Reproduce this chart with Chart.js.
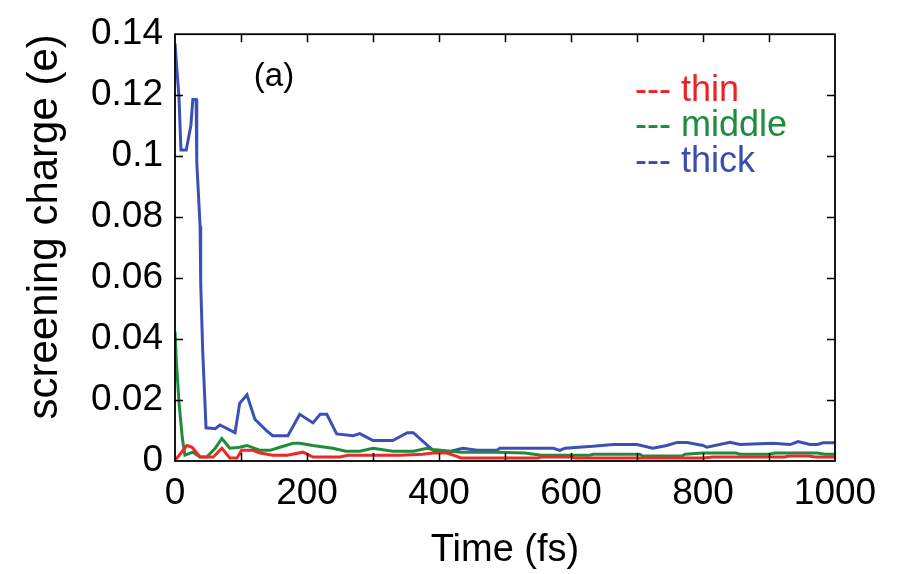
<!DOCTYPE html>
<html>
<head>
<meta charset="utf-8">
<script src="https://cdn.jsdelivr.net/npm/chart.js@4/dist/chart.umd.min.js"></script>
<style>
  html, body { margin: 0; padding: 0; background: #fff; }
  #wrap { width: 901px; height: 574px; position: relative; }
</style>
</head>
<body>
<div id="wrap"><canvas id="c" width="901" height="574"></canvas></div>
<script>
// ---- data ----
const seriesNames = ['thin', 'middle', 'thick'];

const tThin = [0, 3, 18, 26, 38, 58, 71, 83, 94, 101, 118, 129, 148, 170, 194, 209, 250, 262, 341, 375, 391, 412, 426, 433, 550, 555, 600, 606, 800, 815, 924, 930, 960, 970, 1000];
const thin  = [0.0003, 0.001, 0.0051, 0.0045, 0.0013, 0.0013, 0.0042, 0.001, 0.001, 0.0035, 0.0035, 0.0026, 0.0019, 0.0019, 0.0029, 0.0013, 0.0013, 0.0019, 0.0019, 0.0022, 0.0026, 0.0026, 0.0016, 0.001, 0.001, 0.0013, 0.0013, 0.001, 0.001, 0.0013, 0.0013, 0.0016, 0.0016, 0.0013, 0.0013];

const tMiddle = [0, 2, 6, 11, 15, 27, 38, 48, 61, 71, 83, 98, 109, 129, 144, 159, 179, 189, 209, 239, 259, 280, 300, 330, 361, 382, 391, 433, 488, 530, 555, 629, 633, 704, 709, 768, 773, 800, 850, 856, 900, 909, 973, 985, 1000];
const middle  = [0.0425, 0.033, 0.0195, 0.0077, 0.0019, 0.0029, 0.0013, 0.0013, 0.0042, 0.0074, 0.0042, 0.0045, 0.0051, 0.0035, 0.0035, 0.0045, 0.0058, 0.0058, 0.0051, 0.0042, 0.0032, 0.0032, 0.0042, 0.0032, 0.0032, 0.0042, 0.0038, 0.0029, 0.0029, 0.0026, 0.0019, 0.0019, 0.0022, 0.0022, 0.0016, 0.0016, 0.0022, 0.0026, 0.0026, 0.0022, 0.0022, 0.0026, 0.0026, 0.0022, 0.0022];

const tThick = [0, 3, 6, 9, 17, 24, 27, 32, 33, 38, 39, 42, 47, 61, 68, 91, 98, 109, 121, 139, 148, 171, 189, 209, 220, 230, 245, 270, 280, 300, 330, 352, 361, 391, 412, 436, 458, 488, 492, 573, 583, 591, 633, 664, 700, 724, 745, 761, 776, 800, 806, 841, 856, 906, 932, 944, 962, 973, 982, 992, 1000];
const thick  = [0.137, 0.128, 0.1195, 0.102, 0.102, 0.110, 0.1186, 0.1186, 0.098, 0.077, 0.058, 0.036, 0.0109, 0.0106, 0.0118, 0.0093, 0.0189, 0.0217, 0.0137, 0.0099, 0.0083, 0.0083, 0.0153, 0.0125, 0.0153, 0.0153, 0.0089, 0.0083, 0.009, 0.0067, 0.0067, 0.0093, 0.0093, 0.0035, 0.0029, 0.0042, 0.0035, 0.0035, 0.0042, 0.0042, 0.0035, 0.0042, 0.0048, 0.0054, 0.0054, 0.0042, 0.0051, 0.0061, 0.0061, 0.0051, 0.0045, 0.0061, 0.0054, 0.0058, 0.0054, 0.0064, 0.0054, 0.0054, 0.006, 0.006, 0.006];

const xTickLabels = ['0', '200', '400', '600', '800', '1000'];
const yTickLabels = ['0', '0.02', '0.04', '0.06', '0.08', '0.1', '0.12', '0.14'];

const xTitle = 'Time (fs)';
const yTitle = 'screening charge (e)';
const panelLabel = '(a)';

// ---- styles ----
const FONT = "'Liberation Sans', Arial, Helvetica, sans-serif";
const lineColors = ['#ec2a2a', '#1f8c3c', '#3a50b4'];
const textColors = ['#eb2328', '#1e8c3e', '#3a4cb0'];

const toPts = (ts, vs) => ts.map((t, i) => ({ x: t, y: vs[i] }));
const seriesData = [toPts(tThin, thin), toPts(tMiddle, middle), toPts(tThick, thick)];

const framePlugin = {
  id: 'frame',
  afterDatasetsDraw(chart) {
    const { ctx, chartArea: a, scales: { x, y } } = chart;
    ctx.save();
    ctx.strokeStyle = '#000';
    ctx.lineWidth = 1.8;
    ctx.strokeRect(a.left, a.top, a.right - a.left, a.bottom - a.top);
    ctx.lineWidth = 1.5;
    const tl = 8;
    ctx.beginPath();
    for (let v = 100; v < 1000; v += 100) {
      const px = Math.round(x.getPixelForValue(v)) + 0.5;
      ctx.moveTo(px, a.bottom); ctx.lineTo(px, a.bottom - tl);
      ctx.moveTo(px, a.top); ctx.lineTo(px, a.top + tl);
    }
    for (let i = 1; i < yTickLabels.length - 1; i++) {
      const py = Math.round(y.getPixelForValue(i * 0.02)) + 0.5;
      ctx.moveTo(a.left, py); ctx.lineTo(a.left + tl, py);
      ctx.moveTo(a.right, py); ctx.lineTo(a.right - tl, py);
    }
    ctx.stroke();

    // panel label
    ctx.fillStyle = '#000';
    ctx.font = '33px ' + FONT;
    ctx.textAlign = 'center';
    ctx.textBaseline = 'middle';
    ctx.fillText(panelLabel, 274, 77);

    // legend as text
    ctx.font = '36px ' + FONT;
    ctx.textAlign = 'left';
    ctx.textBaseline = 'alphabetic';
    const base = [101, 136, 172];
    seriesNames.forEach((n, i) => {
      ctx.fillStyle = textColors[i];
      ctx.fillText('--- ' + n, 635, base[i]);
    });
    ctx.restore();
  }
};

new Chart(document.getElementById('c'), {
  type: 'line',
  data: {
    datasets: seriesNames.map((n, i) => ({
      label: n,
      data: seriesData[i],
      borderColor: lineColors[i],
      backgroundColor: lineColors[i],
      borderWidth: 3,
      pointRadius: 0,
      tension: 0,
      fill: false
    }))
  },
  options: {
    responsive: false,
    animation: false,
    devicePixelRatio: 1,
    layout: { padding: { left: 0, right: 66, top: 23, bottom: 0 } },
    plugins: { legend: { display: false }, tooltip: { enabled: false } },
    scales: {
      x: {
        type: 'linear',
        min: 0, max: 1000,
        grid: { display: false, drawTicks: false },
        border: { display: false },
        ticks: {
          stepSize: 200,
          padding: 11,
          color: '#000',
          font: { family: FONT, size: 37 },
          maxRotation: 0,
          callback: (v) => xTickLabels[Math.round(v / 200)]
        },
        title: {
          display: true, text: xTitle, color: '#000',
          font: { family: FONT, size: 38 },
          padding: { top: 1, bottom: 1 }
        },
        afterFit: (s) => { s.height = 113; }
      },
      y: {
        type: 'linear',
        min: 0, max: 0.14,
        grid: { display: false, drawTicks: false },
        border: { display: false },
        ticks: {
          stepSize: 0.02,
          padding: 12,
          color: '#000',
          font: { family: FONT, size: 37 },
          callback: (v) => yTickLabels[Math.round(v / 0.02)]
        },
        title: {
          display: true, text: yTitle, color: '#000',
          align: 'end',
          font: { family: FONT, size: 42 },
          padding: { top: 20, bottom: 0 }
        },
        afterFit: (s) => { s.width = 175; }
      }
    }
  },
  plugins: [framePlugin]
});
</script>
</body>
</html>
